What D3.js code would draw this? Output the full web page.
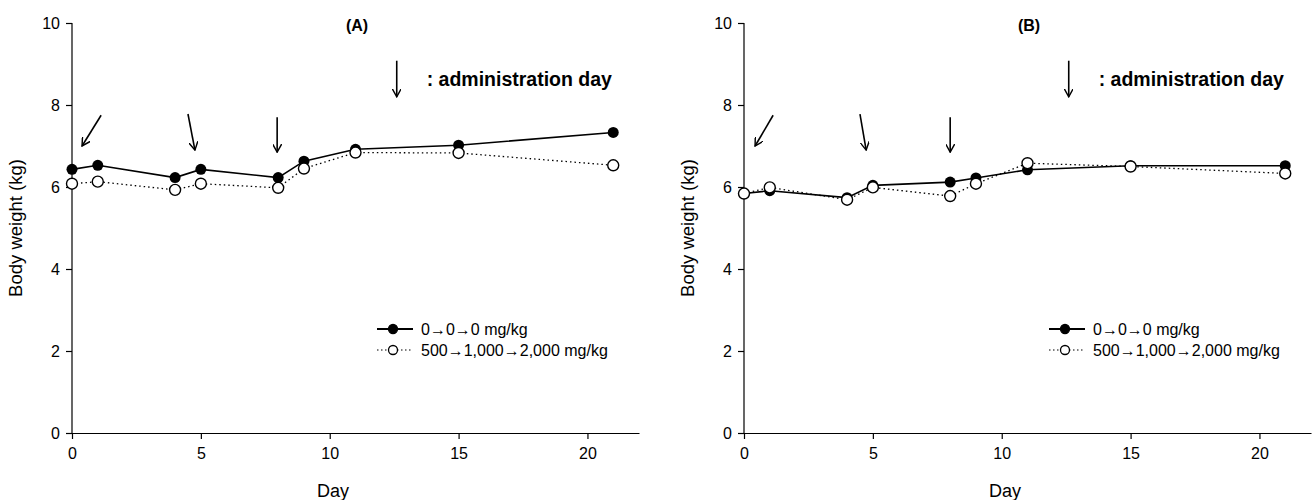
<!DOCTYPE html>
<html>
<head>
<meta charset="utf-8">
<script src="https://cdn.jsdelivr.net/npm/d3@7"></script>
<style>
  body { margin: 0; background: #fff; }
  svg { display: block; font-family: "Liberation Sans", Arial, sans-serif; }
  .axis path, .axis line { stroke: #000; stroke-width: 1.2; }
  .axis text { font-size: 16px; fill: #000; }
</style>
</head>
<body>
<svg id="chart"></svg>
<script>
// ── DATA ──────────────────────────────────────────────────────────────────
const days = [0, 1, 4, 5, 8, 9, 11, 15, 21];

const controlA = [6.43, 6.53, 6.23, 6.43, 6.23, 6.63, 6.92, 7.02, 7.33];
const treatedA = [6.08, 6.13, 5.93, 6.08, 5.98, 6.45, 6.84, 6.83, 6.53];

const controlB = [5.84, 5.91, 5.74, 6.04, 6.12, 6.22, 6.42, 6.52, 6.52];
const treatedB = [5.84, 5.99, 5.69, 5.99, 5.78, 6.08, 6.58, 6.50, 6.33];

const xTicks = [0, 5, 10, 15, 20];
const yTicks = [0, 2, 4, 6, 8, 10];

const seriesNames = ["0\u21920\u21920 mg/kg", "500\u21921,000\u21922,000 mg/kg"];

// administration-day arrows: [x1, y1, x2, y2] in data units (day, kg)
const arrowsA = [[1.13, 7.75, 0.39, 7.0], [4.5, 7.78, 4.77, 6.9], [7.96, 7.7, 7.96, 6.85]];
const arrowsB = [[1.13, 7.75, 0.43, 7.0], [4.5, 7.78, 4.74, 6.9], [8.0, 7.7, 8.0, 6.85]];

// ── DIMENSI ───────────────────────────────────────────────────────────────
const W = 1314, H = 500;
const svg = d3.select("#chart").attr("width", W).attr("height", H);

const defs = svg.append("defs");
defs.append("marker")
  .attr("id", "head")
  .attr("viewBox", "0 0 10 10")
  .attr("refX", 9).attr("refY", 5)
  .attr("markerWidth", 9).attr("markerHeight", 9)
  .attr("markerUnits", "userSpaceOnUse")
  .attr("orient", "auto")
  .append("path")
    .attr("d", "M0,0 L9,5 L0,10")
    .attr("fill", "none")
    .attr("stroke", "#000")
    .attr("stroke-width", 1.6);

function panel(left, title, control, treated, arrows) {
  const x = d3.scaleLinear().domain([0, 22]).range([left, left + 567]);
  const y = d3.scaleLinear().domain([0, 10]).range([433, 23]);
  const g = svg.append("g");

  // axes
  g.append("g")
    .attr("class", "axis")
    .attr("transform", "translate(0,433)")
    .call(d3.axisBottom(x).tickValues(xTicks).tickSize(6).tickSizeOuter(0).tickPadding(9));

  g.append("g")
    .attr("class", "axis")
    .attr("transform", `translate(${left},0)`)
    .call(d3.axisLeft(y).tickValues(yTicks).tickSize(6).tickSizeOuter(0).tickPadding(6))
    .call(ax => ax.select(".domain").attr("d", `M0,${y(10)}V${y(0)}`));

  g.append("text")
    .attr("x", left + 261).attr("y", 497)
    .attr("text-anchor", "middle")
    .style("font-size", "18px")
    .text("Day");

  g.append("text")
    .attr("transform", `translate(${left - 50},${y(5)}) rotate(-90)`)
    .attr("text-anchor", "middle")
    .style("font-size", "18.5px")
    .text("Body weight (kg)");

  g.append("text")
    .attr("x", left + 285).attr("y", 31)
    .attr("text-anchor", "middle")
    .style("font-size", "16px")
    .style("font-weight", "bold")
    .text(title);

  // administration day key
  g.append("line")
    .attr("x1", x(12.6)).attr("x2", x(12.6))
    .attr("y1", y(9.08)).attr("y2", y(8.2))
    .attr("stroke", "#000").attr("stroke-width", 1.6)
    .attr("marker-end", "url(#head)");
  g.append("text")
    .attr("x", x(13.76)).attr("y", y(8.6) + 6)
    .style("font-size", "19.5px")
    .style("font-weight", "bold")
    .text(": administration day");

  g.selectAll(".arrow")
    .data(arrows)
    .join("line")
      .attr("class", "arrow")
      .attr("x1", d => x(d[0])).attr("y1", d => y(d[1]))
      .attr("x2", d => x(d[2])).attr("y2", d => y(d[3]))
      .attr("stroke", "#000").attr("stroke-width", 1.6)
      .attr("marker-end", "url(#head)");

  const line = d3.line().x((d, i) => x(days[i])).y(d => y(d));

  g.append("path")
    .datum(treated)
    .attr("d", line)
    .attr("fill", "none")
    .attr("stroke", "#000")
    .attr("stroke-width", 1.3)
    .attr("stroke-dasharray", "1.5,3");

  g.append("path")
    .datum(control)
    .attr("d", line)
    .attr("fill", "none")
    .attr("stroke", "#000")
    .attr("stroke-width", 1.6);

  g.selectAll(".dot-c")
    .data(control)
    .join("circle")
      .attr("class", "dot-c")
      .attr("cx", (d, i) => x(days[i])).attr("cy", d => y(d))
      .attr("r", 5.5)
      .attr("fill", "#000");

  g.selectAll(".dot-t")
    .data(treated)
    .join("circle")
      .attr("class", "dot-t")
      .attr("cx", (d, i) => x(days[i])).attr("cy", d => y(d))
      .attr("r", 5.5)
      .attr("fill", "#fff")
      .attr("stroke", "#000")
      .attr("stroke-width", 1.4);

  // legend
  const lx = left + 305;
  const leg = g.selectAll(".leg")
    .data(seriesNames)
    .join("g")
      .attr("class", "leg")
      .attr("transform", (d, i) => `translate(${lx},${329 + i * 21})`);

  leg.append("line")
    .attr("x1", 0).attr("x2", 36)
    .attr("stroke", "#000")
    .attr("stroke-width", (d, i) => i === 0 ? 1.8 : 1.2)
    .attr("stroke-dasharray", (d, i) => i === 0 ? null : "1.5,2.5");
  leg.append("circle")
    .attr("cx", 16).attr("r", 4.5)
    .attr("fill", (d, i) => i === 0 ? "#000" : "#fff")
    .attr("stroke", "#000").attr("stroke-width", 1.3);
  leg.append("text")
    .attr("x", 44).attr("dy", "0.35em")
    .style("font-size", "16px")
    .text(d => d);
}

panel(72, "(A)", controlA, treatedA, arrowsA);
panel(744, "(B)", controlB, treatedB, arrowsB);
</script>
</body>
</html>
